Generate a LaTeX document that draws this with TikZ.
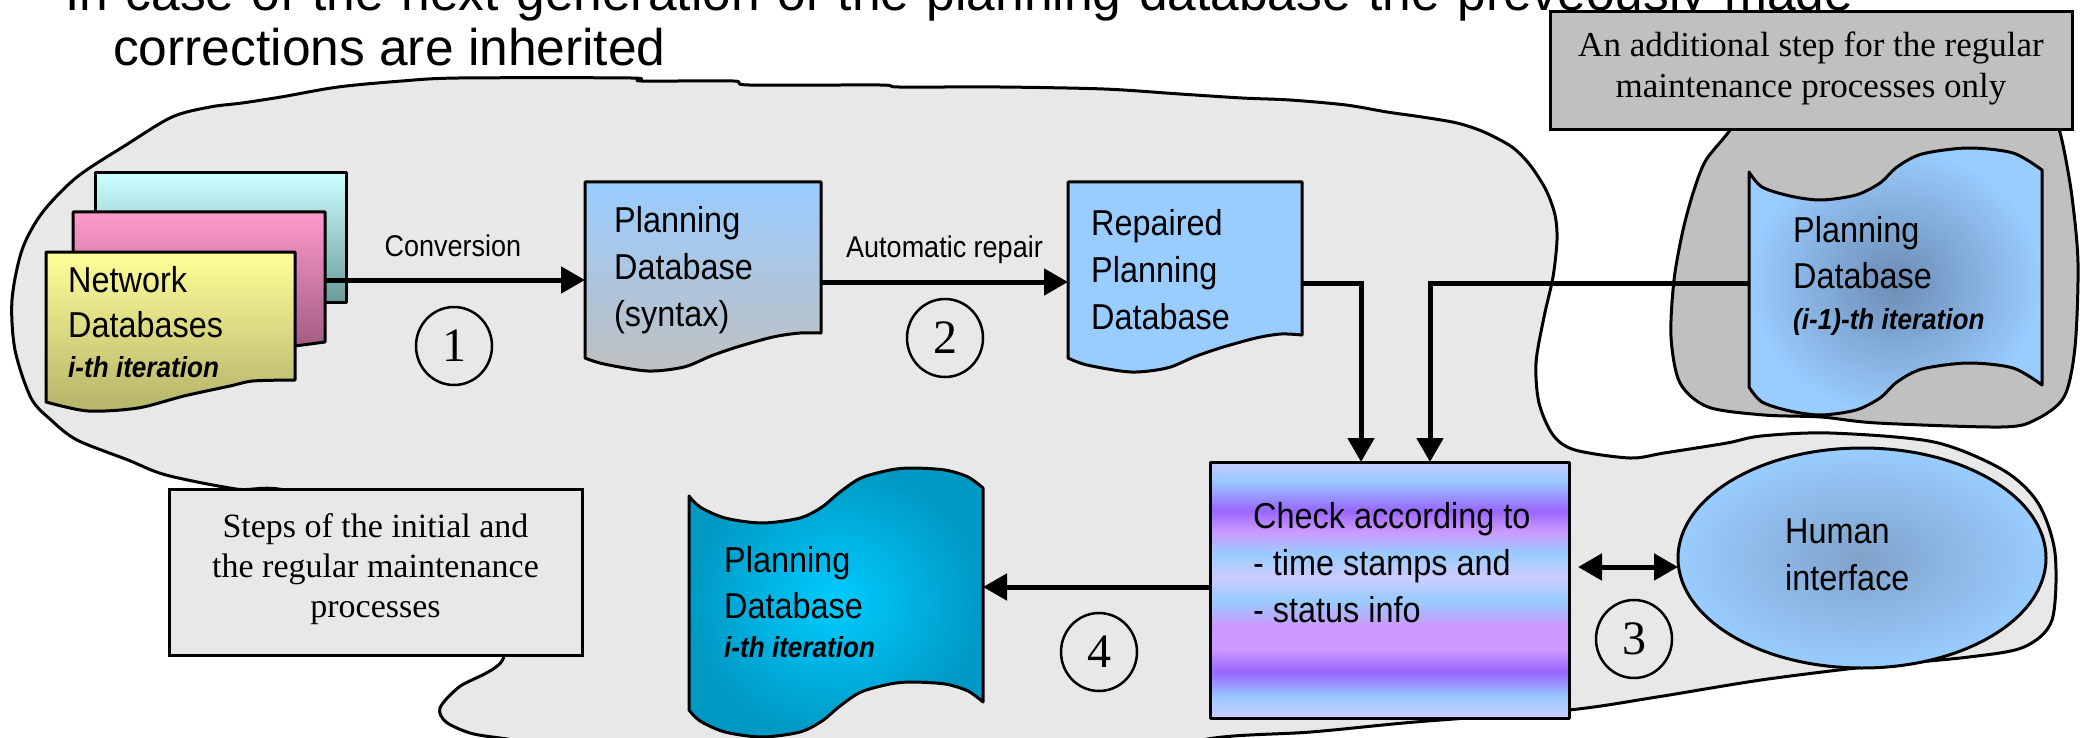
\documentclass[tikz,border=0pt]{standalone}
\usepackage{fontspec}
\setmainfont{Liberation Serif}
\newfontfamily\dsans[FakeStretch=0.9]{Liberation Sans}
\newfontfamily\tsans{Liberation Sans}
\usetikzlibrary{arrows.meta,shapes.geometric}

% palette
\definecolor{blobgray}{HTML}{E8E8E8}
\definecolor{darkgray}{HTML}{C0C0C0}
\definecolor{dbblue}{HTML}{99CCFF}
\definecolor{dbgray}{HTML}{C0C0C0}
\definecolor{olddark}{HTML}{6C8CB4}
\definecolor{humdark}{HTML}{80A2CA}
\definecolor{tealout}{HTML}{0099C4}
\definecolor{tealin}{HTML}{00CCFF}
\definecolor{cyanT}{HTML}{CCFFFF}
\definecolor{cyanB}{HTML}{6A9C9C}
\definecolor{pinkT}{HTML}{FF99CC}
\definecolor{pinkB}{HTML}{9E5A80}
\definecolor{yelT}{HTML}{FFFF99}
\definecolor{yelB}{HTML}{B5B26A}
\definecolor{stLav}{HTML}{CCCCFF}
\definecolor{stTop}{HTML}{C8C8FF}
\definecolor{stBlue}{HTML}{99CCFF}
\definecolor{stMid}{HTML}{9999FF}
\definecolor{stPurp}{HTML}{9966FF}
\definecolor{stLil}{HTML}{CC99FF}

% horizontal colour bands of the check box (bottom to top)
\pgfdeclareverticalshading{checkstripes}{100bp}{%
  color(0bp)=(stLav); color(25bp)=(stLav); color(29bp)=(stBlue);
  color(31.5bp)=(stMid); color(34bp)=(stPurp); color(38.5bp)=(stLil);
  color(43bp)=(stLil); color(48bp)=(stBlue); color(52.5bp)=(stLav);
  color(57bp)=(stBlue); color(61.5bp)=(stLil); color(65.5bp)=(stPurp);
  color(68.5bp)=(stMid); color(71.5bp)=(stBlue); color(75bp)=(stTop);
  color(100bp)=(stTop)}

\newcommand\lstack[1]{\begin{tabular}[t]{@{}l@{}}#1\end{tabular}}
\newcommand\cstack[1]{\begin{tabular}[t]{@{}c@{}}#1\end{tabular}}
\newcommand\itbf[1]{{\fontsize{29}{29}\selectfont\bfseries\itshape #1}}

\tikzset{
  outline/.style={draw=black, line width=3pt, line join=round},
  area/.style={inner sep=0pt, outer sep=0pt},
  arr/.style={line width=5pt, -{Triangle[length=24pt,width=26pt]}},
  dblarr/.style={line width=5pt, {Triangle[length=24pt,width=26pt]}-{Triangle[length=24pt,width=26pt]}},
  num/.style={draw, ellipse, line width=2.5pt, minimum width=76pt, minimum height=78pt,
    inner sep=0pt, font=\fontsize{48}{48}\selectfont},
  dbtext/.style={anchor=base west, inner sep=0pt, font=\dsans\fontsize{36}{46}\selectfont},
  dbtextw/.style={anchor=base west, inner sep=0pt, font=\dsans\fontsize{36}{47}\selectfont},
  arrlabel/.style={anchor=base, inner sep=0pt, font=\dsans\fontsize{30}{36}\selectfont},
  notebox/.style={draw=black, line width=3pt, inner sep=0pt},
  notetext/.style={anchor=base, inner sep=0pt, font=\fontsize{34}{40}\selectfont},
  heading/.style={anchor=base west, inner sep=0pt, font=\tsans\fontsize{51.5}{55}\selectfont},
}

\begin{document}
\begin{tikzpicture}[x=1pt,y=-1pt]
\useasboundingbox (0,0) rectangle (2085,738);
\clip (0,0) rectangle (2085,738);
\fill[white] (0,0) rectangle (2085,738);

% heading
\node[heading] (title1) at (65,11)
  {\makebox[1788pt][s]{In case of the next generation of the planning database the preveously made}};
\node[heading] (title2) at (113,66) {corrections are inherited};

% region of the initial and regular steps
\path[outline, fill=blobgray] plot[smooth cycle, tension=0.5] coordinates {
  (126,145) (172,117) (210,107) (242,103) (281,97) (338,87) (402,81) (459,78)
  (631,78) (641,81) (733,81) (749,85) (880,85) (899,87) (1000,87) (1104,89)
  (1180,94) (1242,98) (1290,100) (1346,105) (1387,112) (1422,117) (1457,123)
  (1484,132) (1512,147) (1530,165) (1546,190) (1555,215) (1557,240) (1553,277)
  (1544,317) (1536,363) (1539,403) (1553,435) (1575,450) (1630,458) (1664,453)
  (1727,443) (1761,436) (1830,433) (1934,442) (2003,470) (2038,503) (2055,553)
  (2052,620) (2024,647) (1969,657) (1865,667) (1761,680) (1657,697) (1569,710)
  (1415,722) (1311,732) (1214,738) (1100,760) (800,765) (560,745) (500,738)
  (470,733) (446,722) (440,708) (459,687) (504,655) (460,580) (300,495)
  (236,489) (166,475) (128,460) (77,440) (51,420) (31,398) (15,350) (12,300)
  (22,250) (42,213) (77,177)};

% region of the additional step
\path[outline, fill=darkgray] plot[smooth cycle, tension=0.5] coordinates {
  (1745,100) (1730,130) (1706,160) (1694,190) (1683,230) (1674,280) (1671,337)
  (1680,383) (1708,407) (1764,415) (1821,417) (1877,423) (2001,427) (2035,420)
  (2064,397) (2075,347) (2078,263) (2072,197) (2064,150) (2058,125) (2050,100)
  (1900,90)};

% notes
\node[notebox, fill=darkgray, minimum width=522pt, minimum height=118pt] (addbox) at (1811,71) {};
\node[notetext, font=\fontsize{35}{41}\selectfont] (addtext) at (1811,57)
  {\cstack{An additional step for the regular\\maintenance processes only}};
\node[notebox, fill=blobgray, minimum width=413pt, minimum height=166pt] (steps) at (375.5,572) {};
\node[notetext] (stepstext) at (375.5,537)
  {\cstack{Steps of the initial and\\the regular maintenance\\processes}};

% network databases, stacked
\node[outline, area, top color=cyanT, bottom color=cyanB, minimum width=251pt, minimum height=129pt] (netc) at (220.5,237.5) {};
\path[outline, top color=pinkT, bottom color=pinkB]
  (73,212) -- (325,212) -- (325,342) -- (295,346) -- (73,352) -- cycle;
\node[area, minimum width=252pt, minimum height=136pt] (netp) at (199,280) {};
\path[outline, top color=yelT, bottom color=yelB]
  (46,252) -- (295,252) -- (295,380) -- plot[smooth] coordinates {
  (295,380) (253,381) (230,386) (184,396) (138,408) (88,411) (46,402)} -- cycle;
\node[area, minimum width=249pt, minimum height=159pt] (nety) at (170.5,331.5) {};
\node[dbtext, font=\dsans\fontsize{36}{45}\selectfont] (nettext) at (68,292)
  {\lstack{Network\\Databases\\[-5pt]\itbf{i-th iteration}}};

% planning database (syntax)
\path[outline, top color=dbblue, bottom color=dbgray]
  (585,182) -- (821,182) -- (821,333) -- plot[smooth] coordinates {
  (821,333) (800,333) (773,337) (737,347) (711,356) (684,367) (648,371) (604,364) (585,358)} -- cycle;
\node[area, minimum width=236pt, minimum height=196pt] (psyn) at (703,280) {};
\node[dbtextw] (psyntext) at (614,233) {\lstack{Planning\\Database\\(syntax)}};

% repaired planning database
\path[outline, fill=dbblue]
  (1068,182) -- (1302,182) -- (1302,335) -- plot[smooth] coordinates {
  (1302,335) (1281,334) (1256,338) (1220,348) (1194,357) (1167,368) (1131,372) (1087,365) (1068,358)} -- cycle;
\node[area, minimum width=234pt, minimum height=196pt] (rep) at (1185,280) {};
\node[dbtextw] (reptext) at (1091,236) {\lstack{Repaired\\Planning\\Database}};

% planning database of the previous iteration
\path[outline, inner color=olddark, outer color=dbblue]
  plot[smooth] coordinates {(1749,172) (1762,187) (1790,196) (1821,200) (1856,195)
    (1880,183) (1897,167) (1922,154) (1968,148) (2013,153) (2042,170)}
  -- plot[smooth] coordinates {(2042,385) (2013,368) (1968,363) (1922,369) (1897,382)
    (1880,398) (1856,410) (1821,415) (1790,411) (1762,402) (1749,387)} -- cycle;
\node[area, minimum width=293pt, minimum height=266pt] (pold) at (1895.5,283) {};
\node[dbtext] (poldtext) at (1793,242) {\lstack{Planning\\Database\\[-5pt]\itbf{(i-1)-th iteration}}};

% planning database of the current iteration
\path[outline, inner color=tealin, outer color=tealout]
  plot[smooth] coordinates {(689,496) (700,507) (725,518) (762,523) (800,518) (822,507)
    (840,492) (861,478) (890,470) (912,468) (945,470) (968,477) (983,488)}
  -- plot[smooth] coordinates {(983,702) (968,691) (945,684) (912,682) (890,684) (861,692)
    (840,706) (822,721) (800,732) (762,737) (725,732) (700,721) (689,710)} -- cycle;
\node[area, minimum width=294pt, minimum height=238pt] (pnew) at (836,587) {};
\node[dbtext] (pnewtext) at (724,572) {\lstack{Planning\\Database\\[-7pt]\itbf{i-th iteration}}};

% check and human interface
\node[outline, area, shading=checkstripes, minimum width=359pt, minimum height=256pt] (check) at (1389.5,590) {};
\node[dbtextw] (checktext) at (1253,528) {\lstack{Check according to\\- time stamps and\\- status info}};
\node[outline, ellipse, area, inner color=humdark, outer color=dbblue, minimum width=368pt, minimum height=220pt] (human) at (1862,558) {};
\node[dbtextw] (humantext) at (1785,543) {\lstack{Human\\interface}};

% flow
\draw[arr] (netp.east) -- (psyn.west);
\node[arrlabel] (lconv) at (453,256) {Conversion};
\draw[arr] ([yshift=-2pt]psyn.east) -- ([yshift=-2pt]rep.west);
\node[arrlabel] (lrep) at (944.5,258) {Automatic repair};
\draw[arr] ([yshift=-3pt]rep.east) -| ([xshift=-28.5pt]check.north);
\draw[arr] (pold.west) -| ([xshift=40.5pt]check.north);
\draw[dblarr] ([xshift=9pt,yshift=23pt]check.east) -- ([yshift=-9pt]human.west);
\draw[arr] ([yshift=3pt]check.west) -- (pnew.east);

% step numbers
\node[num] (n1) at (454,346) {1};
\node[num] (n2) at (945,338) {2};
\node[num] (n3) at (1634,639) {3};
\node[num] (n4) at (1099,652) {4};
\end{tikzpicture}
\end{document}
